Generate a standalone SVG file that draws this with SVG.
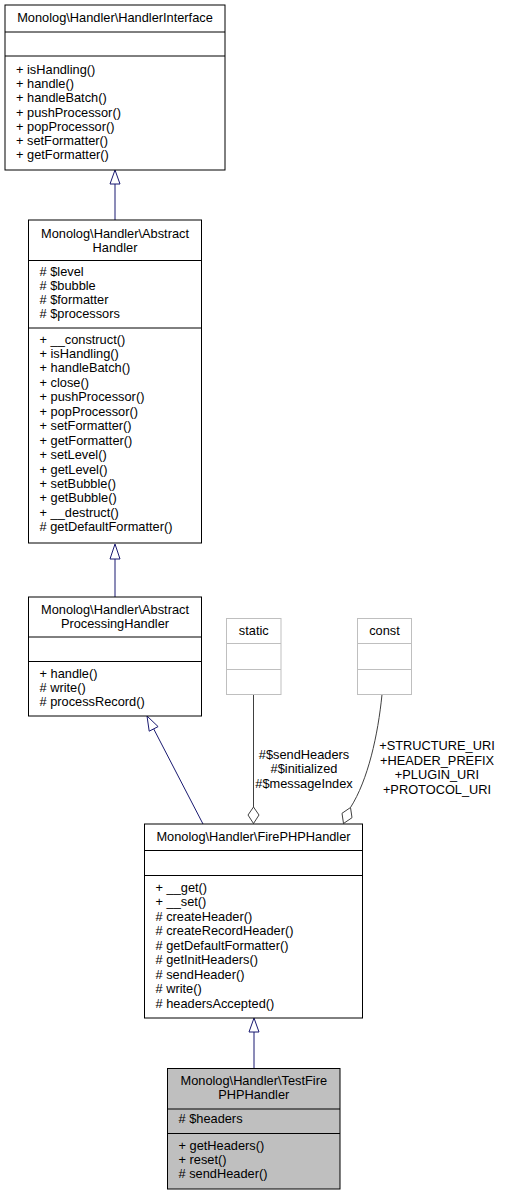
<svg xmlns="http://www.w3.org/2000/svg" width="507" height="1195" viewBox="0 0 507 1195">
<style>
text{font-family:"Liberation Sans",Arial,Helvetica,sans-serif;font-size:12.8px;fill:#000}
.c{text-anchor:middle}
.box{fill:#fff;stroke:#000;stroke-width:1}
.sep{stroke:#000;stroke-width:1}
.gbox{fill:#fff;stroke:#bfbfbf;stroke-width:1}
.gsep{stroke:#bfbfbf;stroke-width:1}
.cur{fill:#bfbfbf;stroke:#000;stroke-width:1}
.inh{stroke:#191970;stroke-width:1;fill:none}
.inhh{fill:#fff;stroke:#191970;stroke-width:1}
.agg{stroke:#404040;stroke-width:1;fill:none}
.aggh{fill:#fff;stroke:#404040;stroke-width:1}
</style>
<g id="connectors">
<line class="inh" x1="115" y1="184" x2="115" y2="220"/>
<polygon class="inhh" points="115,170 110,184 120,184"/>
<line class="inh" x1="115" y1="559" x2="115" y2="597"/>
<polygon class="inhh" points="115,544 110,559 120,559"/>
<line class="inh" x1="203" y1="824" x2="153.7" y2="728.9"/>
<polygon class="inhh" points="147,716 158.1,726.6 149.2,731.2"/>
<line class="inh" x1="254" y1="1032" x2="254" y2="1068.5"/>
<polygon class="inhh" points="254,1018 249,1032 259,1032"/>
<line class="agg" x1="253.5" y1="694.5" x2="253.5" y2="807"/>
<polygon class="aggh" points="253.5,807 259,815 253.5,823.5 248,815"/>
<text class="c" x="304" y="758.5">#$sendHeaders</text>
<text class="c" x="304" y="773">#$initialized</text>
<text class="c" x="304" y="787.5">#$messageIndex</text>
<path class="agg" d="M382,694.5 C378,735 368,780 350.5,807.5"/>
<polygon class="aggh" points="350.5,807.5 352,817.7 343.5,823.5 342,813.3"/>
<text class="c" x="437" y="750">+STRUCTURE_URI</text>
<text class="c" x="437" y="764.5">+HEADER_PREFIX</text>
<text class="c" x="437" y="779">+PLUGIN_URI</text>
<text class="c" x="437" y="793.5">+PROTOCOL_URI</text>
</g>
<g id="HandlerInterface">
<rect class="box" x="5" y="5" width="220" height="165"/>
<line class="sep" x1="5" y1="32" x2="225" y2="32"/>
<line class="sep" x1="5" y1="56" x2="225" y2="56"/>
<text class="c" x="115" y="22">Monolog\Handler\HandlerInterface</text>
<text x="16" y="74">+ isHandling()</text>
<text x="16" y="88.2">+ handle()</text>
<text x="16" y="102.4">+ handleBatch()</text>
<text x="16" y="116.6">+ pushProcessor()</text>
<text x="16" y="130.8">+ popProcessor()</text>
<text x="16" y="145">+ setFormatter()</text>
<text x="16" y="159.2">+ getFormatter()</text>
</g>
<g id="AbstractHandler">
<rect class="box" x="28.5" y="220" width="173" height="323"/>
<line class="sep" x1="28.5" y1="260.5" x2="201.5" y2="260.5"/>
<line class="sep" x1="28.5" y1="328" x2="201.5" y2="328"/>
<text class="c" x="115" y="237.5">Monolog\Handler\Abstract</text>
<text class="c" x="115" y="251.8">Handler</text>
<text x="39.5" y="275.5"># $level</text>
<text x="39.5" y="289.8"># $bubble</text>
<text x="39.5" y="304"># $formatter</text>
<text x="39.5" y="318.3"># $processors</text>
<text x="39.5" y="343.5">+ __construct()</text>
<text x="39.5" y="357.95">+ isHandling()</text>
<text x="39.5" y="372.4">+ handleBatch()</text>
<text x="39.5" y="386.85">+ close()</text>
<text x="39.5" y="401.3">+ pushProcessor()</text>
<text x="39.5" y="415.75">+ popProcessor()</text>
<text x="39.5" y="430.2">+ setFormatter()</text>
<text x="39.5" y="444.65">+ getFormatter()</text>
<text x="39.5" y="459.1">+ setLevel()</text>
<text x="39.5" y="473.55">+ getLevel()</text>
<text x="39.5" y="488">+ setBubble()</text>
<text x="39.5" y="502.45">+ getBubble()</text>
<text x="39.5" y="516.9">+ __destruct()</text>
<text x="39.5" y="531.35"># getDefaultFormatter()</text>
</g>
<g id="AbstractProcessingHandler">
<rect class="box" x="28.5" y="597" width="173" height="119"/>
<line class="sep" x1="28.5" y1="637" x2="201.5" y2="637"/>
<line class="sep" x1="28.5" y1="661.5" x2="201.5" y2="661.5"/>
<text class="c" x="115" y="613.5">Monolog\Handler\Abstract</text>
<text class="c" x="115" y="627.8">ProcessingHandler</text>
<text x="39.5" y="677.7">+ handle()</text>
<text x="39.5" y="691.9"># write()</text>
<text x="39.5" y="706.1"># processRecord()</text>
</g>
<g id="static">
<rect class="gbox" x="226.5" y="618.5" width="54.5" height="76"/>
<line class="gsep" x1="226.5" y1="643.5" x2="281" y2="643.5"/>
<line class="gsep" x1="226.5" y1="669.5" x2="281" y2="669.5"/>
<text class="c" x="253.75" y="635">static</text>
</g>
<g id="const">
<rect class="gbox" x="357.5" y="618.5" width="54" height="76"/>
<line class="gsep" x1="357.5" y1="643.5" x2="411.5" y2="643.5"/>
<line class="gsep" x1="357.5" y1="669.5" x2="411.5" y2="669.5"/>
<text class="c" x="384.5" y="635">const</text>
</g>
<g id="FirePHPHandler">
<rect class="box" x="144.5" y="824" width="218" height="194"/>
<line class="sep" x1="144.5" y1="850.5" x2="362.5" y2="850.5"/>
<line class="sep" x1="144.5" y1="875.5" x2="362.5" y2="875.5"/>
<text class="c" x="253.5" y="840.7">Monolog\Handler\FirePHPHandler</text>
<text x="155.5" y="891.5">+ __get()</text>
<text x="155.5" y="906">+ __set()</text>
<text x="155.5" y="920.5"># createHeader()</text>
<text x="155.5" y="935"># createRecordHeader()</text>
<text x="155.5" y="949.5"># getDefaultFormatter()</text>
<text x="155.5" y="964"># getInitHeaders()</text>
<text x="155.5" y="978.5"># sendHeader()</text>
<text x="155.5" y="993"># write()</text>
<text x="155.5" y="1007.5"># headersAccepted()</text>
</g>
<g id="TestFirePHPHandler">
<rect class="cur" x="167.5" y="1068.5" width="172.5" height="120.5"/>
<line class="sep" x1="167.5" y1="1109" x2="340" y2="1109"/>
<line class="sep" x1="167.5" y1="1133.5" x2="340" y2="1133.5"/>
<text class="c" x="253.75" y="1085">Monolog\Handler\TestFire</text>
<text class="c" x="253.75" y="1099.3">PHPHandler</text>
<text x="178.5" y="1123.3"># $headers</text>
<text x="178.5" y="1150">+ getHeaders()</text>
<text x="178.5" y="1164.3">+ reset()</text>
<text x="178.5" y="1178.3"># sendHeader()</text>
</g>
</svg>
